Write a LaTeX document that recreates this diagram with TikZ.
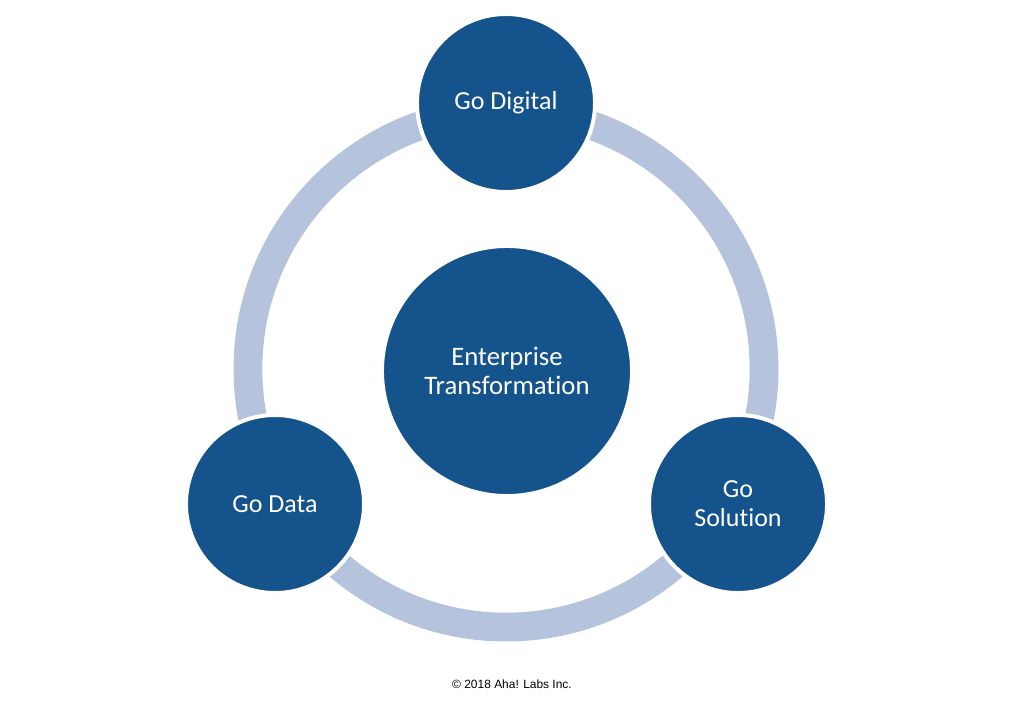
\documentclass[tikz,border=0pt]{standalone}
\usepackage{fontspec}
\setmainfont{Carlito}[Ligatures=NoCommon]
\newfontfamily\notefont{Liberation Sans}
\usepackage{xcolor}
\usetikzlibrary{positioning,calc}
\definecolor{goblue}{HTML}{15538C}
\definecolor{ringblue}{HTML}{B5C3DC}

\begin{document}
\begin{tikzpicture}[x=0.025cm, y=-0.025cm,
  hub/.style={circle, fill=goblue, draw=white, line width=0.1cm, minimum size=6.25cm,
              inner sep=0pt, text=white, font=\fontsize{19}{20.6}\selectfont, align=center},
  spoke/.style={circle, fill=goblue, draw=white, line width=0.1cm, minimum size=4.45cm,
                inner sep=0pt, text=white, font=\fontsize{18.5}{20.6}\selectfont, align=center},
  ring/.style={draw=ringblue, line width=0.72cm}
]
\useasboundingbox (0,0) rectangle (1024,709);
\coordinate (c) at (506,369);
\draw[ring] (c) circle[radius=6.45cm];
\node[hub] (ent) at (507,371) {Enterprise\\Transformation};
\node[spoke] (dig) at (506,103) {Go Digital};
\node[spoke] (dat) at (275,504) {Go Data};
\node[spoke] (sol) at (738,504) {Go\\Solution};
\node[font=\notefont\fontsize{8.5}{10}\selectfont] (copy) at (512,684) {\textcopyright{} 2018 Aha! Labs Inc.};
\end{tikzpicture}
\end{document}
